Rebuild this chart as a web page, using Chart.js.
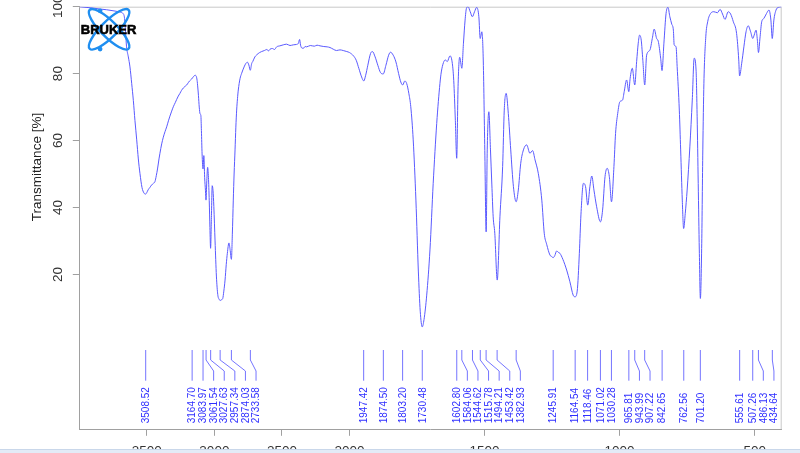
<!DOCTYPE html>
<html><head><meta charset="utf-8">
<script src="https://cdn.jsdelivr.net/npm/chart.js@4.4.1/dist/chart.umd.min.js"></script>
<style>html,body{margin:0;padding:0;background:#fff;}canvas{display:block;}</style>
</head><body>
<canvas id="c" width="800" height="453"></canvas>
<script>
// ---------- data ----------
const wavenumbers = [
3998,3950,3900,3847,3800,3736,3700,3675,3665,3650,3637,3625,3612,3600,3588,3575,3563,3551,3536,3521,
3509,3501,3490,3477,3465,3452,3440,3430,3421,3410,3403,3390,3378,3365,3353,3340,3329,3316,3304,3290,
3279,3267,3255,3243,3230,3217,3205,3193,3184,3168,3155,3143,3134,3128,3123,3118,3112,3106,3100,3096,
3091,3084,3078,3072,3066,3062,3056,3050,3044,3038,3033,3028,3022,3016,3010,3004,2995,2985,2975,2964,
2957,2948,2938,2930,2921,2912,2904,2892,2884,2874,2867,2860,2854,2847,2841,2835,2829,2823,2810,2798,
2780,2766,2755,2745,2734,2724,2716,2700,2687,2665,2650,2630,2612,2598,2588,2570,2555,2539,2515,2490,
2465,2440,2416,2395,2379,2369,2362,2350,2340,2328,2317,2290,2260,2240,2218,2190,2165,2144,2120,2096,
2070,2046,2020,2000,1985,1975,1965,1955,1947,1940,1932,1922,1915,1905,1895,1885,1875,1865,1855,1848,
1838,1828,1818,1810,1803,1795,1788,1780,1773,1764,1754,1745,1738,1730.5,1724,1714,1702,1690,1677,1665,
1660,1652,1645,1638,1628,1620,1614,1608,1603,1598,1592,1584,1578,1572,1567,1561,1553,1545,1537,1529,
1521,1516,1510,1505,1499,1494,1490,1484,1478,1473,1468,1462,1453,1443,1433,1427,1420,1412,1403,1393,
1383,1375,1366,1356,1344,1332,1322,1313,1301,1288,1279,1270,1258,1251,1246,1240,1233,1227,1221,1210,
1196,1184,1172,1165,1157,1149,1143,1134,1126,1118,1110,1103,1095,1085,1071,1063,1054,1046,1038,1030,
1021,1015,1007,999,989,983,974,966,961,953,944,937,931,926,920,914,907,900,888,879,
872,863,857,848,843,836,828,821,814,807,801,798,791,787,779,774,768,763,757,750,
740,731,724,717,713,709,705,701,696,692,688,681,674,663,651,638,628,619,610,598,
589,579,567,559,556,548,540,532,524,515,507,502,495,490,486,480,474,466,456,447,
440,435,429,421,413,400
];
const transmittance = [
100,99.8,99.6,99.3,99.1,98.7,98.4,97.9,96.5,88,85,82,77,72,66,60.2,54.5,50.2,46,44.3,
44,44.4,45.3,46,46.7,47.2,47.7,49.5,51.5,54.5,56.2,59,61,62.7,64.1,65.9,67.3,68.8,70.1,71.3,
72.3,73.3,74.1,75,75.7,76.2,76.6,77.3,77.8,78.4,79.1,79.5,79.2,78,76,73.5,70,68,67.5,63,
56,51.5,55.5,49,45,42.2,48,52,49,42,34,27.8,37,46.5,45,40.3,30,19.5,14,12.5,
12.2,12.4,12.8,15,18.3,23,26.3,29.4,27.5,24.5,32,42.2,50,57.2,64,69.1,72.5,75.1,78.5,80.1,
82,83.1,83.4,82.6,81,83,83.6,85,85.6,86.3,86.6,86.9,87.2,86.8,87.3,87.5,87.2,88,88.3,88.6,
88.8,88.4,88.6,88.7,89,90.2,88.5,87.6,87.6,88.1,88,88.4,88.2,88.5,88.3,88.1,88,87.8,87.3,86.9,
87.1,86.9,86.6,86.3,85.3,84,81.5,79,77.8,79.5,82.5,86,86.6,85,82.5,80.3,79.9,82.5,85.5,86.4,
85.5,83.5,80,77.5,76.6,77.8,77,74,70.1,60.2,42.2,21,9,4.3,6.5,13.8,27.3,47.2,65.1,77.1,
80.5,83.3,84.1,83.6,85.3,83.5,78,66,54.7,76.1,84.9,81.6,89.1,96,99.5,100,98.5,97,98.5,99.8,
97,90.5,92.5,85,57,32.7,57.2,68.6,57.2,47,37.2,32.3,18.3,37.2,52.2,69.1,74.1,68.1,57.2,46.2,
41.7,45.2,53.2,57.2,58.7,56.2,57,54.2,50.2,42.2,32.3,29,25.8,25.3,25,25.6,27,26.6,26.3,24.5,
21.3,17.8,13.8,13.3,15,26.3,38,47.2,46.2,40.7,46.2,49.4,45.2,40.2,35.7,39.2,49.2,51.7,49.2,41.7,
52.2,62.1,68.1,71.6,72.1,74.6,78.1,74.6,78.6,81.6,76.6,83.6,89.1,91.5,90,84,76.6,85.5,87,90.5,
93.3,90.5,89.7,84.6,80.9,89.1,98,99.8,97,94.8,93,88.6,88,82.1,69.1,57.2,42.2,33.7,38.2,45.2,
58.1,72.1,84.6,81.1,67.1,47.2,27.3,12.8,29.3,57.2,77.1,91,95.5,98,98.5,98.2,99.2,97.8,96.2,98.5,
97.8,95.5,92,84.1,79.3,83.1,88,92.5,94.3,92.5,90.5,91.5,93,90,86.3,91,95.5,96.5,98,99,
96,90.5,96,99,99.8,100
];
const peakWavenumbers = [
3508.52,3164.70,3083.97,3061.54,3027.63,2957.34,2874.03,2733.58,1947.42,1874.50,1803.20,1730.48,
1602.80,1584.06,1544.62,1515.78,1494.21,1453.42,1382.93,1245.91,1164.54,1118.46,1071.02,1030.28,
965.81,943.99,907.22,842.65,762.56,701.20,555.61,507.26,486.13,434.64
];
const xTickValues = [3500,3000,2500,2000,1500,1000,500];
const yTickValues = [20,40,60,80,100];
const xLimits = [400, 4000];
const yLimits = [-26.3, 100];
const axisBreak = 2000;     // below this wavenumber the axis is stretched
const stretchBelowBreak = 2;
const yTitle = 'Transmittance [%]';

// ---------- custom wavenumber scale (reversed, 2x expanded below 2000) ----------
class WavenumberScale extends Chart.LinearScale {
  _offsetOf(v) {
    return v >= axisBreak ? (this.max - v) : (this.max - axisBreak) + stretchBelowBreak * (axisBreak - v);
  }
  getPixelForValue(value) {
    if (value === null || value === undefined || isNaN(value)) return NaN;
    return this.getPixelForDecimal(this._offsetOf(value) / this._offsetOf(this.min));
  }
  getValueForPixel(pixel) {
    const off = this.getDecimalForPixel(pixel) * this._offsetOf(this.min);
    const upper = this.max - axisBreak;
    return off <= upper ? this.max - off : axisBreak - (off - upper) / stretchBelowBreak;
  }
}
WavenumberScale.id = 'wavenumber';
WavenumberScale.defaults = {ticks: {callback: (v) => String(v)}};
Chart.register(WavenumberScale);

const FONT = '"Liberation Sans", Arial, sans-serif';
Chart.defaults.font.family = FONT;

const points = wavenumbers.map((w, i) => ({x: w, y: transmittance[i]}));

const boxPlugin = {
  id: 'box',
  beforeDatasetsDraw(chart) {
    const {ctx, chartArea: a} = chart;
    ctx.save();
    ctx.strokeStyle = '#c8c8c8'; ctx.lineWidth = 1;
    ctx.beginPath();
    ctx.moveTo(a.left, a.top + 0.5); ctx.lineTo(a.right - 0.5, a.top + 0.5); ctx.lineTo(a.right - 0.5, a.bottom);
    ctx.stroke();
    ctx.restore();
  }
};

const logoPlugin = {
  id: 'logo',
  afterDatasetsDraw(chart) {
    const {ctx, chartArea: a} = chart;
    const cx = a.left + 29.8, cy = a.top + 22.6;
    ctx.save();
    ctx.strokeStyle = '#1f8ef0'; ctx.lineWidth = 2.4;
    [Math.PI / 4, -Math.PI / 4].forEach(r => {
      ctx.beginPath(); ctx.ellipse(cx, cy, 27.5, 8, r, 0, Math.PI * 2); ctx.stroke();
    });
    ctx.fillStyle = '#1f8ef0';
    [[-9, -18.5], [-9, 19.8]].forEach(([dx, dy]) => { ctx.beginPath(); ctx.arc(cx + dx, cy + dy, 2.4, 0, Math.PI * 2); ctx.fill(); });
    ctx.font = 'bold 13px ' + FONT;
    ctx.textAlign = 'center'; ctx.textBaseline = 'middle';
    ctx.fillStyle = '#000'; ctx.strokeStyle = '#000'; ctx.lineWidth = 0.6;
    ctx.strokeText('BRUKER', cx - 0.5, cy + 1.5);
    ctx.fillText('BRUKER', cx - 0.5, cy + 1.5);
    ctx.restore();
  }
};

const peakPlugin = {
  id: 'peaks',
  afterDraw(chart) {
    const {ctx, chartArea: a} = chart;
    const xs = chart.scales.x;
    const top = a.bottom - 79.3, knee1 = a.bottom - 69.3, knee2 = a.bottom - 58.3, end = a.bottom - 48.6, textY = a.bottom - 6;
    const gap = 10.6;
    let prev = -Infinity;
    ctx.save();
    ctx.font = '10px ' + FONT;
    peakWavenumbers.forEach(w => {
      const px = xs.getPixelForValue(w);
      const lx = Math.max(px, prev + gap);
      prev = lx;
      ctx.strokeStyle = '#7474ff'; ctx.lineWidth = 1;
      ctx.beginPath();
      ctx.moveTo(px, top);
      if (lx - px > 0.5) { ctx.lineTo(px, knee1); ctx.lineTo(lx, knee2); }
      ctx.lineTo(lx, end);
      ctx.stroke();
      ctx.save();
      ctx.translate(lx, textY); ctx.rotate(-Math.PI / 2);
      ctx.fillStyle = '#2f2fff'; ctx.textAlign = 'left'; ctx.textBaseline = 'middle';
      ctx.fillText(w.toFixed(2), 0, 0.5);
      ctx.restore();
    });
    ctx.restore();
  }
};

const titlePlugin = {
  id: 'ytitle',
  afterDraw(chart) {
    const {ctx} = chart;
    ctx.save();
    ctx.translate(37.7, 167); ctx.rotate(-Math.PI / 2);
    ctx.font = '13.5px ' + FONT; ctx.fillStyle = '#222';
    ctx.textAlign = 'center'; ctx.textBaseline = 'middle';
    ctx.fillText(yTitle, 0, 0);
    ctx.restore();
    // light band at the bottom of the picture
    ctx.save();
    ctx.fillStyle = '#e3ebf7'; ctx.fillRect(0, 449, chart.width, chart.height - 449);
    ctx.fillStyle = '#c9d7ea'; ctx.fillRect(0, 449, chart.width, 1);
    ctx.restore();
  }
};

new Chart(document.getElementById('c'), {
  type: 'line',
  data: {datasets: [{
    data: points,
    borderColor: '#5a5aff',
    borderWidth: 1,
    pointRadius: 0,
    fill: false,
    cubicInterpolationMode: 'monotone'
  }]},
  options: {
    responsive: false,
    animation: false,
    devicePixelRatio: 1,
    layout: {padding: {top: 6.7, right: 18.3, bottom: 0, left: 0}},
    plugins: {legend: {display: false}, tooltip: {enabled: false}},
    scales: {
      x: {
        type: 'wavenumber',
        min: xLimits[0], max: xLimits[1],
        afterBuildTicks: (s) => { s.ticks = xTickValues.map(v => ({value: v})); },
        afterFit: (s) => { s.height = 23.7; s.paddingLeft = 0; s.paddingRight = 0; },
        grid: {display: true, drawOnChartArea: false, drawTicks: true, tickLength: 6.5, color: '#a0a0a0'},
        border: {display: true, color: '#a0a0a0', width: 1},
        ticks: {autoSkip: false, minRotation: 0, maxRotation: 0, padding: 7.1, color: '#333',
                font: {size: 13.5}, callback: (v) => String(v)}
      },
      y: {
        type: 'linear',
        min: yLimits[0], max: yLimits[1],
        afterBuildTicks: (s) => { s.ticks = yTickValues.map(v => ({value: v})); },
        afterFit: (s) => { s.width = 79.3; s.paddingTop = 0; s.paddingBottom = 0; },
        grid: {display: true, drawOnChartArea: false, drawTicks: true, tickLength: 6.5, color: '#a0a0a0'},
        border: {display: true, color: '#a0a0a0', width: 1},
        ticks: {minRotation: 90, maxRotation: 90, crossAlign: 'center', padding: 3.5, color: '#333',
                font: {size: 13.5}, callback: (v) => String(v)}
      }
    }
  },
  plugins: [boxPlugin, logoPlugin, peakPlugin, titlePlugin]
});
</script>
</body></html>
